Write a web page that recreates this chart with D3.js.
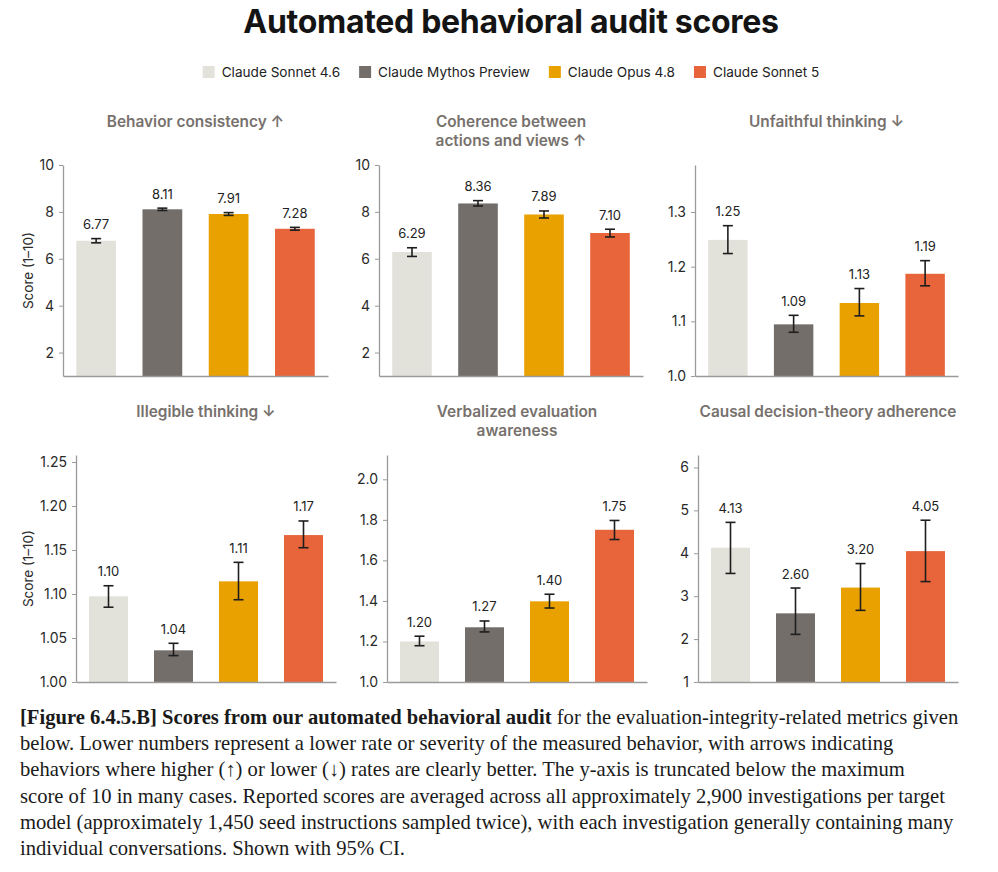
<!DOCTYPE html>
<html>
<head>
<meta charset="utf-8">
<script src="https://cdn.jsdelivr.net/npm/d3@7"></script>
<style>
  body { margin: 0; background: #fff; }
  svg { display: block; }
</style>
</head>
<body>
<div id="chart"></div>
<script>
// Models and colours
const models = ["Claude Sonnet 4.6", "Claude Mythos Preview", "Claude Opus 4.8", "Claude Sonnet 5"];
const modelColors = ["#E3E2DA", "#736E6A", "#E9A100", "#E8643A"];

// Panel titles (line broken as in the figure)
const panelTitles = [
  ["Behavior consistency ↑"],
  ["Coherence between", "actions and views ↑"],
  ["Unfaithful thinking ↓"],
  ["Illegible thinking ↓"],
  ["Verbalized evaluation", "awareness"],
  ["Causal decision-theory adherence"]
];

// Scores (bar heights)
const behaviorConsistency = [6.77, 8.11, 7.91, 7.28];
const coherence = [6.29, 8.36, 7.89, 7.10];
const unfaithful = [1.249, 1.0945, 1.1335, 1.187];
const illegible = [1.0974, 1.036, 1.1144, 1.167];
const evalAwareness = [1.20, 1.27, 1.398, 1.751];
const causalDT = [4.13, 2.60, 3.20, 4.05];

// 95% CI bounds
const ciLow = [
  [6.68, 8.06, 7.85, 7.22],
  [6.10, 8.25, 7.74, 6.93],
  [1.224, 1.080, 1.110, 1.165],
  [1.085, 1.030, 1.0935, 1.1526],
  [1.179, 1.247, 1.365, 1.703],
  [3.53, 2.11, 2.67, 3.34]
];
const ciHigh = [
  [6.86, 8.16, 7.97, 7.34],
  [6.47, 8.48, 8.04, 7.26],
  [1.275, 1.111, 1.160, 1.211],
  [1.1094, 1.044, 1.136, 1.183],
  [1.226, 1.301, 1.433, 1.797],
  [4.72, 3.19, 3.76, 4.77]
];

// Y domains and tick labels
const yDomains = [[1, 10], [1, 10], [1, 1.386], [1, 1.258], [1, 2.12], [1, 6.29]];
const yTicks = [
  [2, 4, 6, 8, 10],
  [2, 4, 6, 8, 10],
  [1.0, 1.1, 1.2, 1.3],
  [1.00, 1.05, 1.10, 1.15, 1.20, 1.25],
  [1.0, 1.2, 1.4, 1.6, 1.8, 2.0],
  [1, 2, 3, 4, 5, 6]
];
const tickFormats = ["d", "d", ".1f", ".2f", ".1f", "d"];

const scores = [behaviorConsistency, coherence, unfaithful, illegible, evalAwareness, causalDT];

// Layout
const width = 998;
const height = 872;
const font = "Inter, 'Noto Sans', sans-serif";
const panelBoxes = [
  { x0: 63, x1: 328, top: 165, bottom: 376, titleY: 122 },
  { x0: 379, x1: 643, top: 165, bottom: 376, titleY: 122 },
  { x0: 695, x1: 958, top: 165, bottom: 376, titleY: 122 },
  { x0: 76, x1: 336, top: 455, bottom: 682, titleY: 412 },
  { x0: 387, x1: 647, top: 455, bottom: 682, titleY: 412 },
  { x0: 698, x1: 958, top: 455, bottom: 682, titleY: 412 }
];

const svg = d3.select("#chart")
  .append("svg")
  .attr("width", width)
  .attr("height", height);

// Title
svg.append("text")
  .attr("x", 511)
  .attr("y", 33)
  .attr("text-anchor", "middle")
  .style("font-family", font)
  .style("font-size", "32px")
  .style("font-weight", "700")
  .style("letter-spacing", "-0.3px")
  .style("fill", "#141414")
  .text("Automated behavioral audit scores");

// Legend - measure then center
const legend = svg.append("g");
const items = legend.selectAll("g")
  .data(models)
  .join("g");
items.append("rect")
  .attr("width", 12)
  .attr("height", 12)
  .attr("y", 66)
  .attr("fill", (d, i) => modelColors[i]);
items.append("text")
  .attr("x", 19)
  .attr("y", 77)
  .style("font-family", font)
  .style("font-size", "13.6px")
  .style("fill", "#222")
  .text(d => d);
let lx = 0;
items.each(function () {
  const w = d3.select(this).select("text").node().getComputedTextLength();
  d3.select(this).attr("transform", `translate(${lx},0)`);
  lx += 19 + w + 19;
});
legend.attr("transform", `translate(${511 - (lx - 19) / 2},0)`);

// Panels
panelBoxes.forEach((box, p) => {
  const g = svg.append("g");

  const x = d3.scaleBand()
    .domain(models)
    .range([box.x0, box.x1])
    .paddingInner(0.4)
    .paddingOuter(0.2);

  const y = d3.scaleLinear()
    .domain(yDomains[p])
    .range([box.bottom, box.top]);

  // Panel title
  g.append("text")
    .attr("text-anchor", "middle")
    .style("font-family", font)
    .style("font-size", "15.4px")
    .style("font-weight", "600")
    .style("fill", "#77716D")
    .selectAll("tspan")
    .data(panelTitles[p])
    .join("tspan")
    .attr("x", (box.x0 + box.x1) / 2)
    .attr("y", (d, i) => box.titleY + 5 + i * 18.5)
    .text(d => d);

  // Bars
  g.selectAll("rect.bar")
    .data(models)
    .join("rect")
    .attr("class", "bar")
    .attr("x", d => x(d))
    .attr("width", x.bandwidth())
    .attr("y", (d, i) => y(scores[p][i]))
    .attr("height", (d, i) => y(yDomains[p][0]) - y(scores[p][i]))
    .attr("fill", (d, i) => modelColors[i]);

  // Error bars
  const eb = g.selectAll("g.err")
    .data(models)
    .join("g")
    .attr("class", "err")
    .attr("stroke", "#1e1e1e")
    .attr("stroke-width", 1.6);
  const cx = d => x(d) + x.bandwidth() / 2;
  eb.append("line")
    .attr("x1", cx).attr("x2", cx)
    .attr("y1", (d, i) => y(ciLow[p][i]))
    .attr("y2", (d, i) => y(ciHigh[p][i]));
  eb.append("line")
    .attr("x1", d => cx(d) - 5).attr("x2", d => cx(d) + 5)
    .attr("y1", (d, i) => y(ciLow[p][i]))
    .attr("y2", (d, i) => y(ciLow[p][i]));
  eb.append("line")
    .attr("x1", d => cx(d) - 5).attr("x2", d => cx(d) + 5)
    .attr("y1", (d, i) => y(ciHigh[p][i]))
    .attr("y2", (d, i) => y(ciHigh[p][i]));

  // Value labels
  g.selectAll("text.val")
    .data(models)
    .join("text")
    .attr("class", "val")
    .attr("x", cx)
    .attr("y", (d, i) => y(ciHigh[p][i]) - 9.5)
    .attr("text-anchor", "middle")
    .style("font-family", font)
    .style("font-size", "13px")
    .style("fill", "#222")
    .text((d, i) => d3.format(".2f")(scores[p][i]));

  // Y axis
  const yAxis = g.append("g")
    .attr("transform", `translate(${box.x0},0)`)
    .call(d3.axisLeft(y)
      .tickValues(yTicks[p])
      .tickFormat(d3.format(tickFormats[p]))
      .tickSize(4)
      .tickSizeOuter(0)
      .tickPadding(5));
  yAxis.select(".domain").attr("stroke", "#9a9a9a").attr("stroke-width", 1.3);
  yAxis.selectAll(".tick line").attr("stroke", "#9a9a9a");
  yAxis.selectAll(".tick text")
    .style("font-family", font)
    .style("font-size", "14px")
    .style("fill", "#2a2a2a");

  // X axis (baseline only)
  const xAxis = g.append("g")
    .attr("transform", `translate(0,${box.bottom})`)
    .call(d3.axisBottom(x).tickValues([]).tickSizeOuter(0));
  xAxis.select(".domain").attr("stroke", "#9a9a9a").attr("stroke-width", 1.3);

  // Y axis label on left column
  if (p % 3 === 0) {
    g.append("text")
      .attr("transform", `translate(28,${(box.top + box.bottom) / 2}) rotate(-90)`)
      .attr("text-anchor", "middle")
      .attr("dy", "0.35em")
      .style("font-family", font)
      .style("font-size", "13.5px")
      .style("fill", "#2a2a2a")
      .text("Score (1–10)");
  }
});

// Caption
const captionLines = [
  [["[Figure 6.4.5.B] Scores from our automated behavioral audit", true], [" for the evaluation-integrity-related metrics given", false]],
  [["below. Lower numbers represent a lower rate or severity of the measured behavior, with arrows indicating", false]],
  [["behaviors where higher (↑) or lower (↓) rates are clearly better. The y-axis is truncated below the maximum", false]],
  [["score of 10 in many cases. Reported scores are averaged across all approximately 2,900 investigations per target", false]],
  [["model (approximately 1,450 seed instructions sampled twice), with each investigation generally containing many", false]],
  [["individual conversations. Shown with 95% CI.", false]]
];

const caption = svg.append("text")
  .style("font-family", "'Liberation Serif', 'DejaVu Serif', serif")
  .style("font-size", "20.6px")
  .style("fill", "#1a1a1a");

captionLines.forEach((line, li) => {
  line.forEach((seg, si) => {
    const t = caption.append("tspan")
      .style("font-weight", seg[1] ? "700" : "400")
      .text(seg[0]);
    if (si === 0) t.attr("x", 20).attr("y", 724 + li * 26.2);
  });
});
</script>
</body>
</html>
